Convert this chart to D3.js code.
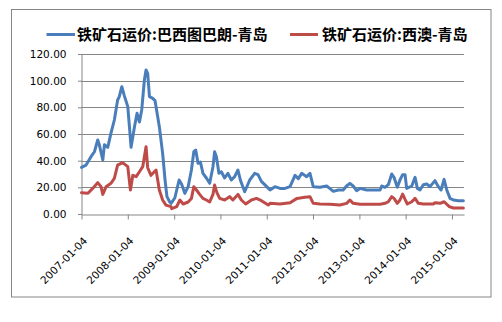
<!DOCTYPE html>
<html>
<head>
<meta charset="utf-8">
<script src="https://cdn.jsdelivr.net/npm/d3@7/dist/d3.min.js"></script>
<style>
  html, body { margin: 0; padding: 0; background: #fff; }
  svg { display: block; }
</style>
</head>
<body>
<svg id="chart" width="502" height="322"></svg>
<script>
// Series names
const seriesNames = ["铁矿石运价:巴西图巴朗-青岛", "铁矿石运价:西澳-青岛"];

// Tubarão - Qingdao freight (USD/t)
const brazilDates = [
  "2007-01-04","2007-02-09","2007-03-20","2007-04-16","2007-05-12","2007-05-25","2007-06-21","2007-07-04",
  "2007-07-30","2007-08-24","2007-09-20","2007-10-16","2007-10-29","2007-11-18","2007-12-07","2008-01-04",
  "2008-01-17","2008-01-30","2008-02-26","2008-03-17","2008-04-05","2008-04-23","2008-05-14","2008-05-27",
  "2008-06-09","2008-06-23","2008-07-19","2008-08-06","2008-08-27","2008-09-09","2008-10-05","2008-10-24",
  "2008-11-08","2008-11-30","2008-12-10","2009-01-09","2009-02-12","2009-03-03","2009-03-29","2009-04-24",
  "2009-05-20","2009-06-08","2009-06-23","2009-07-11","2009-07-30","2009-08-19","2009-09-15","2009-10-11",
  "2009-11-06","2009-11-19","2009-12-03","2009-12-23","2010-01-11","2010-02-06","2010-03-04","2010-03-31",
  "2010-04-26","2010-05-22","2010-06-10","2010-07-14","2010-08-23","2010-10-01","2010-10-27","2010-11-23",
  "2011-01-04","2011-01-30","2011-03-10","2011-04-19","2011-05-28","2011-07-07","2011-08-15","2011-09-10",
  "2011-10-07","2011-11-15","2011-12-11","2012-01-06","2012-02-28","2012-04-21","2012-05-17","2012-06-12",
  "2012-07-21","2012-08-29","2012-09-25","2012-10-21","2012-11-16","2012-12-13","2013-01-08","2013-03-02",
  "2013-04-24","2013-06-16","2013-06-29","2013-07-25","2013-08-20","2013-09-16","2013-10-04","2013-10-30",
  "2013-11-20","2013-12-11","2013-12-30","2014-01-12","2014-02-21","2014-03-19","2014-04-06","2014-04-27",
  "2014-05-23","2014-06-19","2014-07-15","2014-08-23","2014-09-19","2014-10-10","2014-11-03","2014-11-24",
  "2014-12-20","2015-01-15","2015-02-24","2015-04-04"
];
const brazilValues = [
  35.0, 36.7, 43.0, 46.7, 55.5, 51.7, 40.5, 52.0,
  50.0, 60.5, 70.5, 85.5, 88.0, 95.5, 89.0, 80.5,
  65.5, 50.0, 65.5, 75.5, 69.0, 78.0, 100.5, 108.0,
  105.5, 88.0, 86.7, 85.0, 73.0, 65.5, 45.5, 25.5,
  13.0, 9.0, 8.0, 12.0, 25.5, 22.5, 15.5, 20.5,
  33.0, 46.7, 48.0, 38.0, 39.0, 30.5, 27.0, 23.0,
  35.5, 46.7, 43.0, 30.5, 31.7, 27.0, 30.5, 25.5,
  28.0, 33.0, 25.5, 16.7, 25.5, 30.5, 29.5, 24.5,
  20.5, 18.0, 20.5, 19.2, 19.2, 20.5, 29.0, 26.5,
  30.5, 28.0, 30.5, 20.5, 20.0, 21.0, 19.0, 17.0,
  18.0, 18.0, 21.0, 23.0, 21.0, 17.5, 19.2, 18.0,
  18.0, 18.0, 21.0, 20.0, 22.0, 30.0, 27.5, 20.0,
  25.5, 29.5, 29.5, 19.2, 21.0, 27.5, 19.2, 18.0,
  22.0, 22.5, 20.5, 25.0, 20.5, 18.0, 26.0, 18.0,
  11.7, 10.5, 10.0, 10.0
];

// Western Australia - Qingdao freight (USD/t)
const australiaDates = [
  "2007-01-04","2007-02-24","2007-04-02","2007-05-12","2007-06-07","2007-06-21","2007-07-17","2007-08-24",
  "2007-09-20","2007-10-16","2007-11-24","2008-01-04","2008-01-25","2008-02-13","2008-03-10","2008-04-05",
  "2008-05-01","2008-05-27","2008-06-09","2008-07-05","2008-08-14","2008-08-27","2008-09-09","2008-10-05",
  "2008-10-31","2008-12-10","2008-12-16","2009-01-24","2009-02-18","2009-03-16","2009-04-24","2009-05-20",
  "2009-06-08","2009-06-29","2009-07-24","2009-08-19","2009-09-15","2009-10-11","2009-11-06","2009-11-19",
  "2009-12-07","2009-12-29","2010-02-06","2010-03-17","2010-04-12","2010-05-22","2010-06-18","2010-07-22",
  "2010-09-05","2010-10-15","2010-11-23","2011-01-16","2011-01-30","2011-04-19","2011-07-07","2011-08-31",
  "2011-11-01","2011-12-11","2012-01-06","2012-02-28","2012-05-17","2012-08-03","2012-09-25","2012-10-21",
  "2012-11-16","2013-01-08","2013-03-29","2013-06-16","2013-07-25","2013-08-20","2013-09-16","2013-10-04",
  "2013-10-30","2013-11-20","2013-12-11","2013-12-30","2014-01-17","2014-02-21","2014-03-19","2014-04-14",
  "2014-05-23","2014-08-10","2014-08-23","2014-10-02","2014-11-03","2014-12-14","2015-01-15","2015-04-04"
];
const australiaValues = [
  16.0, 15.5, 19.2, 23.5, 20.5, 14.7, 20.5, 23.0,
  26.7, 36.7, 38.5, 35.5, 18.0, 29.0, 28.0, 31.7,
  35.5, 50.5, 34.7, 29.0, 33.0, 25.5, 18.0, 10.5,
  6.7, 5.5, 4.0, 5.5, 10.5, 7.5, 9.0, 11.7,
  20.5, 18.0, 14.7, 11.7, 10.5, 9.0, 14.7, 21.7,
  16.0, 11.7, 10.5, 13.0, 10.5, 14.7, 10.5, 7.5,
  10.5, 11.7, 10.0, 6.7, 8.0, 7.5, 8.5, 11.7,
  12.5, 13.0, 8.0, 7.5, 7.3, 6.7, 8.0, 10.5,
  8.0, 7.3, 7.3, 7.3, 8.0, 9.2, 13.0, 11.7,
  8.0, 10.5, 15.0, 11.0, 7.5, 9.2, 11.7, 8.0,
  7.5, 7.5, 8.5, 8.0, 9.2, 5.5, 4.5, 4.5
];

// Axis labels
const yTicks = [0, 20, 40, 60, 80, 100, 120];
const xTickLabels = ["2007-01-04","2008-01-04","2009-01-04","2010-01-04","2011-01-04",
                     "2012-01-04","2013-01-04","2014-01-04","2015-01-04"];
const dateRange = ["2007-01-04", "2015-04-09"];

const colors = ["#4A7EBB", "#BE4B48"];
const gridColor = "#868686";

const parse = d3.timeParse("%Y-%m-%d");
const svg = d3.select("#chart");

// Outer frame
svg.append("rect")
  .attr("x", 11.5).attr("y", 9.5).attr("width", 479.5).attr("height", 287.5)
  .attr("fill", "#fff").attr("stroke", gridColor).attr("stroke-width", 1);

const plot = { left: 81.5, right: 464, top: 54, bottom: 214 };

const x = d3.scaleTime()
  .domain(dateRange.map(parse))
  .range([plot.left, plot.right]);
const y = d3.scaleLinear()
  .domain([0, 120])
  .range([plot.bottom, plot.top]);

// Horizontal gridlines
svg.append("g")
  .selectAll("line")
  .data(yTicks.filter(v => v > 0))
  .join("line")
  .attr("x1", plot.left).attr("x2", plot.right)
  .attr("y1", d => Math.round(y(d)) + 0.5).attr("y2", d => Math.round(y(d)) + 0.5)
  .attr("stroke", gridColor).attr("stroke-width", 1);

// Y axis
const yAxis = svg.append("g")
  .attr("transform", `translate(${plot.left},0)`)
  .call(d3.axisLeft(y).tickValues(yTicks).tickFormat(d3.format(".2f")).tickSize(4).tickPadding(11));
yAxis.select(".domain").attr("stroke", gridColor).attr("d", `M0.5,${plot.top}V${plot.bottom + 0.5}`);
yAxis.selectAll(".tick line").attr("stroke", gridColor).attr("transform", "translate(0.5,0)");
yAxis.selectAll(".tick text")
  .attr("fill", "#000")
  .style("font-family", "'DejaVu Sans', sans-serif")
  .style("font-size", "10.5px");

// X axis
const xAxis = svg.append("g")
  .attr("transform", `translate(0,${plot.bottom + 0.5})`)
  .call(d3.axisBottom(x).tickValues(xTickLabels.map(parse)).tickFormat(d3.timeFormat("%Y-%m-%d")).tickSize(5).tickSizeOuter(0));
xAxis.select(".domain").attr("stroke", gridColor);
xAxis.selectAll(".tick line").attr("stroke", gridColor);
xAxis.selectAll(".tick text")
  .attr("fill", "#000")
  .attr("text-anchor", "end")
  .attr("dy", null)
  .attr("y", null)
  .attr("transform", "translate(6,27) rotate(-45)")
  .style("font-family", "'DejaVu Sans', sans-serif")
  .style("font-size", "10.5px");

// Lines
const line = d3.line()
  .x(d => x(d.date))
  .y(d => y(d.value));

const series = [
  { dates: brazilDates, values: brazilValues },
  { dates: australiaDates, values: australiaValues }
].map(s => s.dates.map((d, i) => ({ date: parse(d), value: s.values[i] })));

// Draw Western Australia first so the Tubarão line sits on top
[1, 0].forEach(i => {
  svg.append("path")
    .datum(series[i])
    .attr("fill", "none")
    .attr("stroke", colors[i])
    .attr("stroke-width", 3)
    .attr("stroke-linejoin", "round")
    .attr("stroke-linecap", "round")
    .attr("d", line);
});

// Legend
const legendItems = [
  { x1: 46.5, x2: 75, tx: 77 },
  { x1: 290, x2: 318, tx: 322 }
];
const legend = svg.append("g");
legendItems.forEach((it, i) => {
  legend.append("line")
    .attr("x1", it.x1).attr("x2", it.x2).attr("y1", 34.5).attr("y2", 34.5)
    .attr("stroke", colors[i]).attr("stroke-width", 3);
  legend.append("text")
    .attr("x", it.tx).attr("y", 34.5).attr("dy", "0.36em")
    .style("font-family", "'Noto Sans CJK SC', sans-serif")
    .style("font-size", "15px").style("font-weight", "bold")
    .attr("fill", "#000")
    .text(seriesNames[i]);
});
</script>
</body>
</html>
